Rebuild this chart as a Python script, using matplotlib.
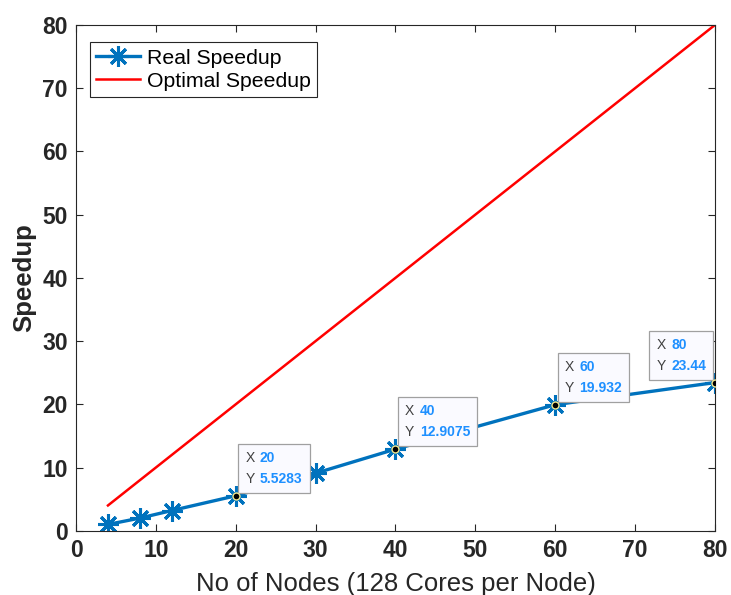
import matplotlib
matplotlib.use('Agg')
import matplotlib.pyplot as plt
from matplotlib.offsetbox import TextArea, HPacker, VPacker, AnnotationBbox

plt.rcParams['font.family'] = ['Liberation Sans', 'DejaVu Sans']

# данные
nodes = [4, 8, 12, 20, 30, 40, 60, 80]
real_speedup = [1.0, 2.0, 3.2, 5.5283, 9.1, 12.9075, 19.932, 23.44]
optimal_x = [4, 80]
optimal_y = [4, 80]

# подсказки (data tips)
tip_x = [20, 40, 60, 80]
tip_y = [5.5283, 12.9075, 19.932, 23.44]
tip_labels = ['5.5283', '12.9075', '19.932', '23.44']

fig = plt.figure(figsize=(7.31, 5.95), dpi=100)
ax = fig.add_axes([0.104, 0.108, 0.874, 0.85])

blue = '#0072BD'
ax.plot(nodes, real_speedup, '-', color=blue, lw=2.4,
        marker=(8, 2, 0), markersize=15, markeredgewidth=2.2, label='Real Speedup')
ax.plot(optimal_x, optimal_y, '-', color='#FF0000', lw=1.8, label='Optimal Speedup')

ax.set_xlim(0, 80)
ax.set_ylim(0, 80)
ax.set_xticks(range(0, 81, 10))
ax.set_yticks(range(0, 81, 10))
ax.tick_params(direction='in', top=True, right=True, length=5, width=0.8,
               labelsize=16.5, colors='#262626', pad=6)
for lbl in ax.get_xticklabels() + ax.get_yticklabels():
    lbl.set_fontweight('bold')
for s in ax.spines.values():
    s.set_color('#262626')
    s.set_linewidth(0.8)

ax.set_xlabel('No of Nodes (128 Cores per Node)', fontsize=18.5, color='#262626', labelpad=7)
ax.set_ylabel('Speedup', fontsize=18.5, color='#262626', fontweight='bold', labelpad=4)

leg = ax.legend(loc='upper left', bbox_to_anchor=(0.022, 0.966), fontsize=15.3,
                fancybox=False, edgecolor='#262626', framealpha=1,
                handlelength=2.07, borderpad=0.3, labelspacing=0.2, handletextpad=0.3,
                borderaxespad=0)
leg.get_frame().set_linewidth(0.8)

# data tips
for tx, ty, tl in zip(tip_x, tip_y, tip_labels):
    rows = []
    for key, val in (('X', str(tx)), ('Y', tl)):
        rows.append(HPacker(children=[
            TextArea(key, textprops=dict(color='#404040', fontsize=10)),
            TextArea(val, textprops=dict(color='#1E90FF', fontsize=10, fontweight='bold'))],
            align='baseline', pad=0, sep=4))
    box = VPacker(children=rows, align='left', pad=0, sep=5)
    if tx == 80:
        xybox, align = (-6.5, 7.0), (1, 0)
    else:
        xybox, align = (6.8, 7.2), (0, 0)
    ab = AnnotationBbox(box, (tx, ty), xybox=xybox, xycoords='data',
                        boxcoords='offset points', box_alignment=align, pad=0.5,
                        bboxprops=dict(facecolor='#FAFAFF', edgecolor='#A0A0A0', lw=0.9))
    ax.add_artist(ab)
    ax.plot(tx, ty, 'o', color='black', markersize=5, markeredgecolor='#F0E68C',
            markeredgewidth=1, zorder=5)

fig.savefig('out.png', dpi=100)
